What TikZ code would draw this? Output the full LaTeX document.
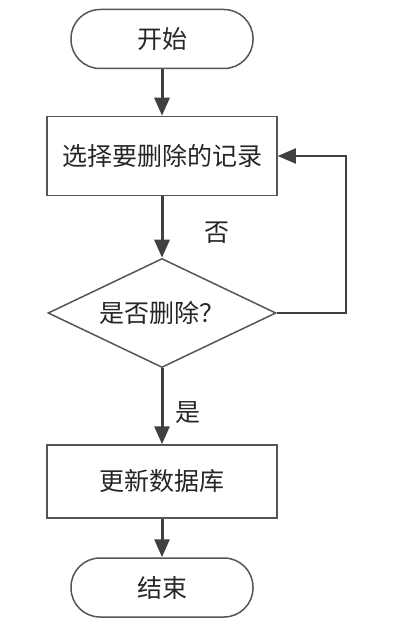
\documentclass[tikz,border=0pt]{standalone}
\usepackage{fontspec}
\newfontfamily\cjk{Noto Sans CJK SC}
\usetikzlibrary{arrows.meta,shapes.geometric}
\definecolor{edgegray}{HTML}{555555}
\definecolor{arrowgray}{HTML}{404040}

\begin{document}
\begin{tikzpicture}[x=0.5pt,y=-0.5pt,line width=0.75pt,>={Triangle[length=9pt,width=7.5pt]},
  every node/.style={font=\cjk\fontsize{12.5}{14}\selectfont,text=black!85},
  term/.style={draw=edgegray,rounded corners=14.5pt,minimum width=91pt,minimum height=29.5pt},
  proc/.style={draw=edgegray,minimum width=115pt},
  cond/.style={draw=edgegray,diamond,aspect=2,inner sep=0pt,minimum width=114pt,minimum height=54.5pt},
  flowarrow/.style={->,draw=arrowgray,line width=1.5pt},
  backarrow/.style={->,draw=arrowgray,line width=1pt}]
  \useasboundingbox (0,0) rectangle (401,626);
  % ===== nodes =====
  \node[term] (start) at (162,39) {开始};
  \node[proc,minimum height=39.5pt] (sel) at (162,156) {选择要删除的记录};
  \node[cond] (dec) at (162,313) {是否删除？};
  \node[proc,minimum height=36.5pt] (upd) at (162,481.5) {更新数据库};
  \node[term] (stop) at (162,587.5) {结束};
  % labels
  \node (no) at (217,233) {否};
  \node (yes) at (188,413) {是};
  % ===== arrows =====
  \draw[flowarrow] (start) -- (sel);
  \draw[flowarrow] (sel) -- (dec);
  \draw[flowarrow] (dec) -- (upd);
  \draw[flowarrow] (upd) -- (stop);
  % back to select
  \coordinate (fb) at (346,156);
  \draw[backarrow] (dec.east) -| (fb) -- (sel.east);
\end{tikzpicture}
\end{document}
